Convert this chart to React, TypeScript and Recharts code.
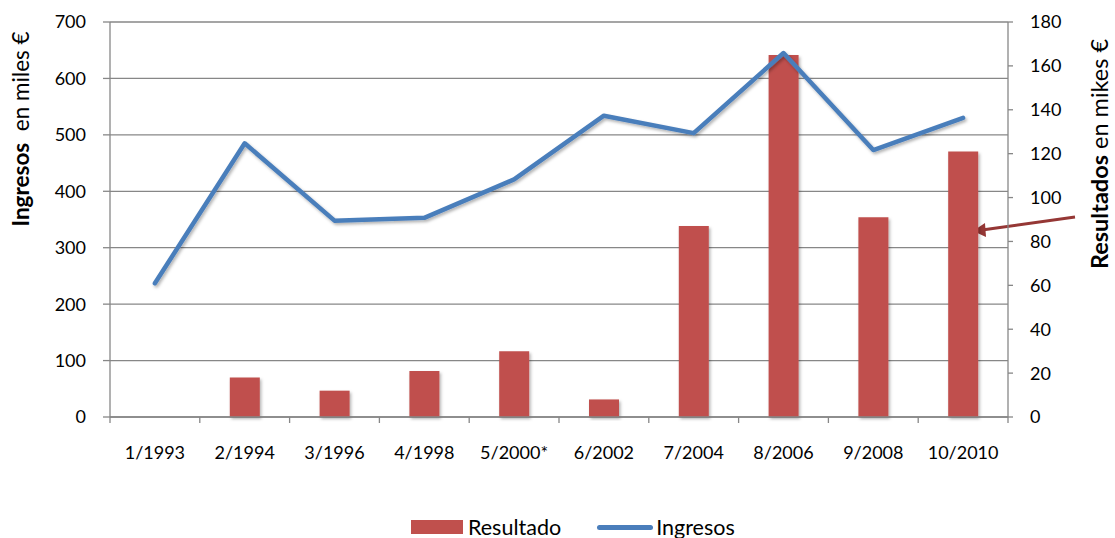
import React from 'react';
import {
  ComposedChart,
  Bar,
  Line,
  XAxis,
  YAxis,
  CartesianGrid,
  Legend,
  Label,
  Customized,
} from 'recharts';

const categories = ['1/1993', '2/1994', '3/1996', '4/1998', '5/2000*', '6/2002', '7/2004', '8/2006', '9/2008', '10/2010'];
const ingresos = [237, 485, 348, 353, 421, 534, 503, 645, 473, 530];
const resultado = [null, 18, 12, 21, 30, 8, 87, 165, 91, 121];
const leftTicks = [0, 100, 200, 300, 400, 500, 600, 700];
const rightTicks = [0, 20, 40, 60, 80, 100, 120, 140, 160, 180];

const data = categories.map((name, i) => ({
  name,
  Resultado: resultado[i],
  Ingresos: ingresos[i],
}));

const FONT = 'Lato, "Open Sans", sans-serif';
const GRID = '#878787';
const RED = '#C0504D';
const BLUE = '#4A7EBB';
const X_TICK_GAP = 29;

const tickStyle = { fontSize: 18, fill: '#000', fontFamily: FONT };

// category label plus the small tick marks that sit on the category boundaries
function CategoryTick(props: any) {
  const { x, y, width, visibleTicksCount, index, payload } = props;
  const half = width / (2 * visibleTicksCount);
  const axisY = y - X_TICK_GAP;
  return (
    <g>
      <line x1={x - half} x2={x - half} y1={axisY} y2={axisY + 6} stroke={GRID} strokeWidth={1.3} />
      {index === visibleTicksCount - 1 && (
        <line x1={x + half} x2={x + half} y1={axisY} y2={axisY + 6} stroke={GRID} strokeWidth={1.3} />
      )}
      <text x={x} y={y} dy="0.71em" textAnchor="middle" {...tickStyle}>
        {payload.value}
      </text>
    </g>
  );
}

function LeftTitle(props: any) {
  const vb = props.viewBox || {};
  const x = vb.x - 30;
  const y = vb.y + 107;
  return (
    <text x={x} y={y} transform={`rotate(-90 ${x} ${y})`} textAnchor="middle" dominantBaseline="central"
      fontFamily={FONT} fontSize={22.5} fill="#000">
      <tspan fontWeight="bold">Ingresos</tspan>
      <tspan>{'\u00A0\u00A0en miles €'}</tspan>
    </text>
  );
}

function RightTitle(props: any) {
  const vb = props.viewBox || {};
  const x = vb.x + 91;
  const y = vb.y + 132;
  return (
    <text x={x} y={y} transform={`rotate(-90 ${x} ${y})`} textAnchor="middle" dominantBaseline="central"
      fontFamily={FONT} fontSize={23.5} fill="#000">
      <tspan fontWeight="bold">Resultados</tspan>
      <tspan>{'\u00A0en mikes €'}</tspan>
    </text>
  );
}

function Arrow() {
  return (
    <g>
      <line x1={1075} y1={217} x2={982} y2={230} stroke="#953735" strokeWidth={3} />
      <polygon points="973,231 985,223 986,237" fill="#953735" />
    </g>
  );
}

function renderLegend() {
  return (
    <div style={{ display: 'flex', alignItems: 'center', height: 30, paddingLeft: 411, fontFamily: FONT, fontSize: 21.5, color: '#000' }}>
      <span style={{ display: 'inline-block', width: 52, height: 14, background: RED, marginRight: 5 }} />
      <span>Resultado</span>
      <span style={{ display: 'inline-block', width: 56, height: 5, borderRadius: 3, background: BLUE, marginLeft: 36, marginRight: 3 }} />
      <span>Ingresos</span>
    </div>
  );
}

export default function App() {
  return (
    <div style={{ position: 'absolute', left: 0, top: 0, background: '#fff' }}>
      <ComposedChart
        width={1115}
        height={538}
        data={data}
        margin={{ top: 22, right: 47, left: 50, bottom: 41 }}
      >
        <defs>
          <filter id="shadow" x="-20%" y="-20%" width="140%" height="140%">
            <feDropShadow dx="1.5" dy="2" stdDeviation="1.5" floodColor="#000" floodOpacity="0.3" />
          </filter>
        </defs>
        <CartesianGrid yAxisId="left" xAxisId="cat" vertical={false} stroke={GRID} strokeWidth={1.3} />
        <XAxis
          xAxisId="cat"
          dataKey="name"
          height={50}
          tickLine={false}
          tickSize={0}
          tickMargin={X_TICK_GAP}
          axisLine={{ stroke: GRID, strokeWidth: 1.3 }}
          tick={<CategoryTick />}
          interval={0}
        />
        <YAxis
          yAxisId="left"
          orientation="left"
          domain={[0, 700]}
          ticks={leftTicks}
          width={60}
          tickSize={7}
          tickMargin={17}
          tick={tickStyle}
          axisLine={{ stroke: GRID, strokeWidth: 1.3 }}
          tickLine={{ stroke: GRID, strokeWidth: 1.3 }}
        >
          <Label content={<LeftTitle />} />
        </YAxis>
        <YAxis
          yAxisId="right"
          orientation="right"
          domain={[0, 180]}
          ticks={rightTicks}
          width={60}
          tickSize={5}
          tickMargin={17}
          tick={tickStyle}
          axisLine={{ stroke: GRID, strokeWidth: 1.3 }}
          tickLine={{ stroke: GRID, strokeWidth: 1.3 }}
        >
          <Label content={<RightTitle />} />
        </YAxis>
        <Legend
          verticalAlign="bottom"
          content={renderLegend}
          wrapperStyle={{ left: 0, width: 1115, top: 512, height: 30 }}
        />
        <Bar
          xAxisId="cat"
          yAxisId="right"
          dataKey="Resultado"
          fill={RED}
          barSize={30}
          filter="url(#shadow)"
          isAnimationActive={false}
        />
        <Line
          xAxisId="cat"
          yAxisId="left"
          dataKey="Ingresos"
          type="linear"
          stroke={BLUE}
          strokeWidth={4.5}
          strokeLinecap="round"
          strokeLinejoin="round"
          dot={false}
          activeDot={false}
          filter="url(#shadow)"
          isAnimationActive={false}
        />
        <Customized component={<Arrow />} />
      </ComposedChart>
    </div>
  );
}
